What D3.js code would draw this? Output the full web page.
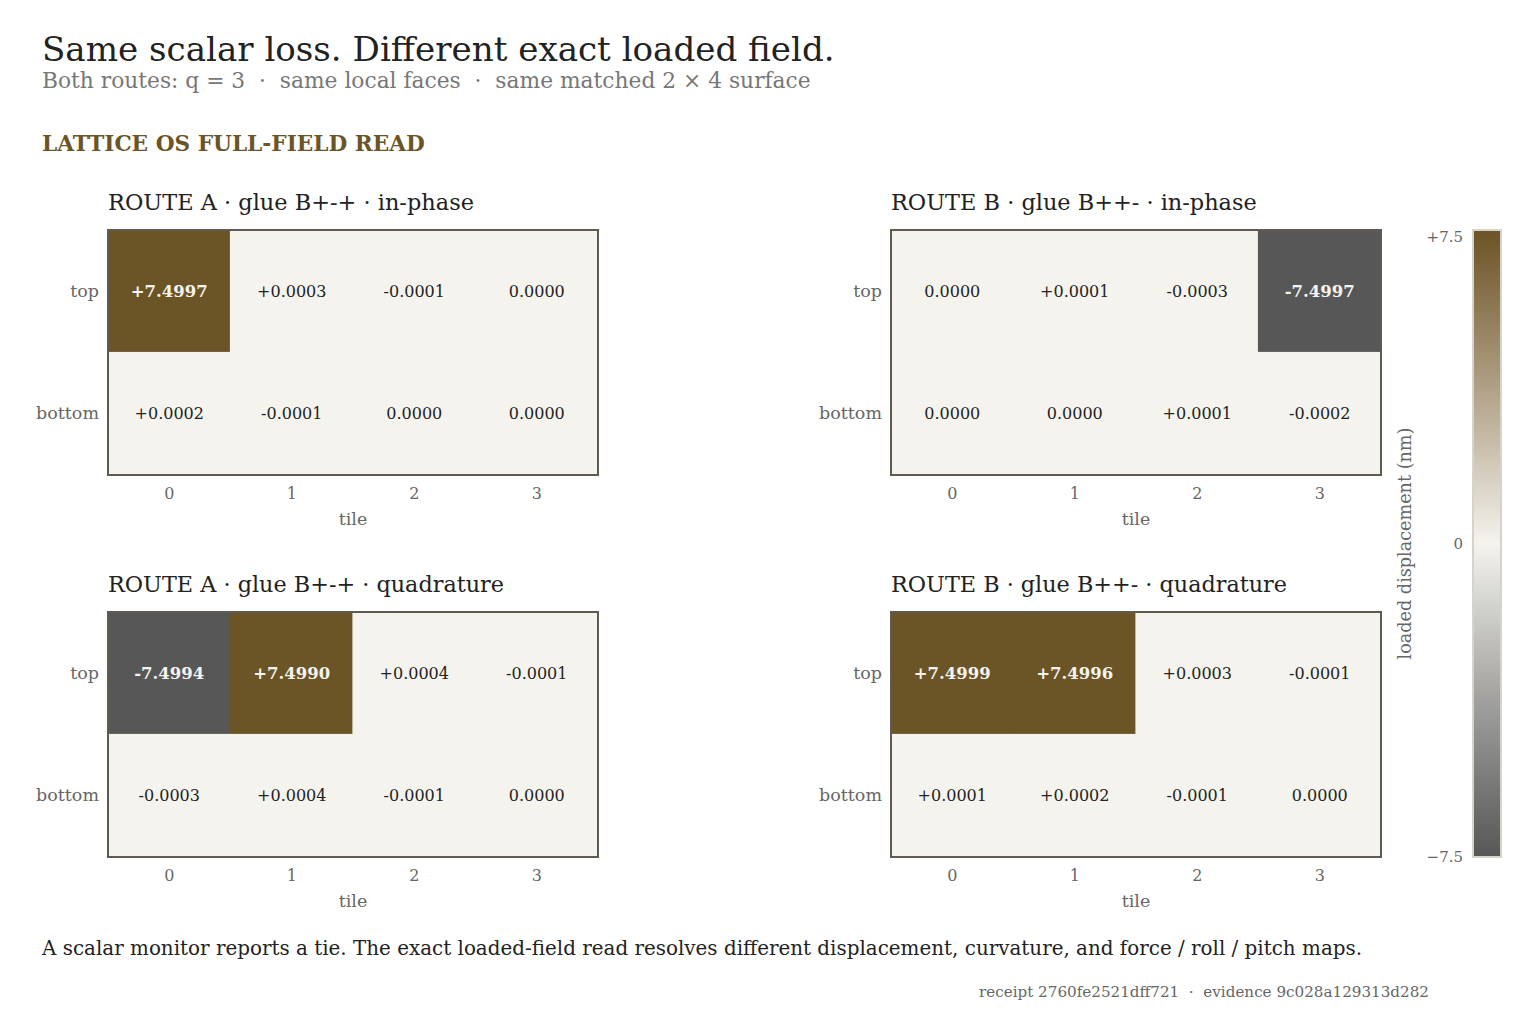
<!DOCTYPE html>
<html><head><meta charset="utf-8">
<script src="https://cdn.jsdelivr.net/npm/d3@7"></script>
<style>
body{margin:0;background:#fff;}
svg{display:block;font-family:"DejaVu Serif",Georgia,serif;}
</style></head>
<body><svg id="chart" width="1534" height="1034"></svg>
<script>
const tiles = [0, 1, 2, 3];
const rowsLbl = ["top", "bottom"];
const panelTitles = [
  "ROUTE A · glue B+-+ · in-phase",
  "ROUTE B · glue B++- · in-phase",
  "ROUTE A · glue B+-+ · quadrature",
  "ROUTE B · glue B++- · quadrature"
];
const routeAInPhase = [[7.4997, 0.0003, -0.0001, 0.0000], [0.0002, -0.0001, 0.0000, 0.0000]];
const routeBInPhase = [[0.0000, 0.0001, -0.0003, -7.4997], [0.0000, 0.0000, 0.0001, -0.0002]];
const routeAQuad = [[-7.4994, 7.4990, 0.0004, -0.0001], [-0.0003, 0.0004, -0.0001, 0.0000]];
const routeBQuad = [[7.4999, 7.4996, 0.0003, -0.0001], [0.0001, 0.0002, -0.0001, 0.0000]];
const colorTicks = [-7.5, 0, 7.5];

const svg = d3.select("#chart");
const FONT = '"DejaVu Serif",Georgia,serif';

function fit(sel, w) {
  const n = sel.node();
  const len = n.getComputedTextLength();
  const fs = parseFloat(sel.attr("font-size"));
  if (len > 0) sel.attr("font-size", (fs * w / len).toFixed(2));
  return sel;
}

const color = d3.scaleLinear().domain([-7.5, 0, 7.5])
  .range(["#575757", "#f4f3ee", "#6b5426"]).interpolate(d3.interpolateLab).clamp(true);

// header
fit(svg.append("text").attr("x", 42).attr("y", 61).attr("font-size", 30).attr("fill", "#222")
  .text("Same scalar loss. Different exact loaded field."), 793);
fit(svg.append("text").attr("x", 42).attr("y", 88).attr("font-size", 20).attr("fill", "#777")
  .style("white-space", "pre")
  .text("Both routes: q = 3  ·  same local faces  ·  same matched 2 × 4 surface"), 769);
fit(svg.append("text").attr("x", 42).attr("y", 151).attr("font-size", 17).attr("font-weight", "bold").attr("fill", "#6b5426")
  .text("LATTICE OS FULL-FIELD READ"), 383);

const panels = [
  {x: 108, y: 230, data: routeAInPhase, title: panelTitles[0], tw: 366},
  {x: 891, y: 230, data: routeBInPhase, title: panelTitles[1], tw: 366},
  {x: 108, y: 612, data: routeAQuad, title: panelTitles[2], tw: 396},
  {x: 891, y: 612, data: routeBQuad, title: panelTitles[3], tw: 396}
];
const PW = 490, PH = 245;

function fmt(v) {
  if (Math.abs(v) < 0.00005) return "0.0000";
  return (v > 0 ? "+" : "-") + Math.abs(v).toFixed(4);
}

panels.forEach(p => {
  const g = svg.append("g").attr("transform", `translate(${p.x},${p.y})`);
  fit(g.append("text").attr("x", 0).attr("y", -20).attr("font-size", 21).attr("fill", "#222").text(p.title), p.tw);
  const x = d3.scaleBand().domain(tiles).range([0, PW]);
  const y = d3.scaleBand().domain(rowsLbl).range([0, PH]);
  const cells = [];
  p.data.forEach((row, ri) => row.forEach((v, ci) => cells.push({r: rowsLbl[ri], c: tiles[ci], v})));
  g.selectAll("rect.cell").data(cells).join("rect").attr("class", "cell")
    .attr("x", d => x(d.c)).attr("y", d => y(d.r))
    .attr("width", x.bandwidth()).attr("height", y.bandwidth())
    .attr("fill", d => color(d.v))
    .attr("stroke", d => color(d.v)).attr("stroke-width", 1.2);
  g.selectAll("text.val").data(cells).join("text").attr("class", "val")
    .attr("x", d => x(d.c) + x.bandwidth() / 2).attr("y", d => y(d.r) + y.bandwidth() / 2)
    .attr("dy", "0.35em").attr("text-anchor", "middle")
    .attr("font-size", d => Math.abs(d.v) > 1 ? 16.5 : 16)
    .attr("font-weight", d => Math.abs(d.v) > 1 ? "bold" : "normal")
    .attr("fill", d => Math.abs(d.v) > 3 ? "#f4f3ee" : "#222")
    .text(d => fmt(d.v));
  g.append("rect").attr("x", 0).attr("y", 0).attr("width", PW).attr("height", PH)
    .attr("fill", "none").attr("stroke", "#5f5b53").attr("stroke-width", 2);
  const xa = g.append("g").attr("transform", `translate(0,${PH})`)
    .call(d3.axisBottom(x).tickSize(0).tickPadding(13));
  xa.select(".domain").remove();
  xa.selectAll("text").attr("font-family", FONT).attr("font-size", 16).attr("fill", "#666");
  const ya = g.append("g").call(d3.axisLeft(y).tickSize(0).tickPadding(9));
  ya.select(".domain").remove();
  ya.selectAll("text").attr("font-family", FONT).attr("font-size", 17.5).attr("fill", "#666");
  g.append("text").attr("x", PW / 2).attr("y", PH + 50).attr("text-anchor", "middle")
    .attr("font-size", 17.5).attr("fill", "#666").text("tile");
});

// colorbar
const CBX = 1473, CBY = 230, CBW = 28, CBH = 627;
const defs = svg.append("defs");
const grad = defs.append("linearGradient").attr("id", "cbgrad").attr("x1", 0).attr("y1", 1).attr("x2", 0).attr("y2", 0);
d3.range(0, 1.0001, 0.05).forEach(t => {
  grad.append("stop").attr("offset", t).attr("stop-color", color(-7.5 + 15 * t));
});
svg.append("rect").attr("x", CBX).attr("y", CBY).attr("width", CBW).attr("height", CBH)
  .attr("fill", "url(#cbgrad)").attr("stroke", "#d6d3ca").attr("stroke-width", 2);
const cy = d3.scaleLinear().domain([-7.5, 7.5]).range([CBY + CBH, CBY]);
const ca = svg.append("g").attr("transform", `translate(${CBX},0)`)
  .call(d3.axisLeft(cy).tickValues(colorTicks).tickSize(0).tickPadding(10)
    .tickFormat(v => v > 0 ? "+" + v : v < 0 ? "−" + Math.abs(v) : "0"));
ca.select(".domain").remove();
ca.selectAll("text").attr("font-family", FONT).attr("font-size", 15).attr("fill", "#666");
ca.selectAll(".tick").filter(d => d === 7.5).select("text").attr("dy", "0.75em");
fit(svg.append("text").attr("transform", `translate(1411,${CBY + CBH / 2}) rotate(-90)`)
  .attr("text-anchor", "middle").attr("font-size", 16).attr("fill", "#666")
  .text("loaded displacement (nm)"), 232);

// caption & footer
fit(svg.append("text").attr("x", 42).attr("y", 955).attr("font-size", 17).attr("fill", "#222")
  .text("A scalar monitor reports a tie. The exact loaded-field read resolves different displacement, curvature, and force / roll / pitch maps."), 1320);
fit(svg.append("text").attr("x", 1429).attr("y", 997).attr("font-size", 14).attr("fill", "#666").attr("text-anchor", "end")
  .style("white-space", "pre")
  .text("receipt 2760fe2521dff721  ·  evidence 9c028a129313d282"), 450);
</script></body></html>
